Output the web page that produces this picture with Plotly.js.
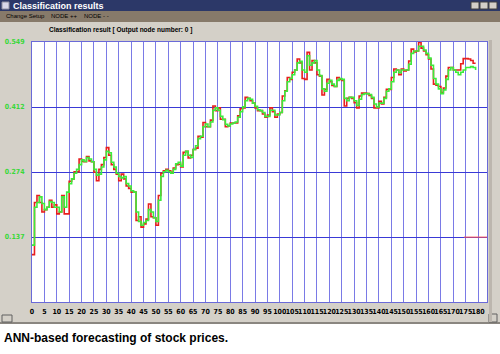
<!DOCTYPE html>
<html>
<head>
<meta charset="utf-8">
<script src="https://cdn.plot.ly/plotly-3.0.1.min.js"></script>
<style>html,body{margin:0;padding:0;background:#ffffff;}#chart{width:500px;height:354px;}</style>
</head>
<body>
<div id="chart"></div>
<script>
// ---- data ----
const actual = [0.10,0.21,0.225,0.21,0.19,0.195,0.20,0.215,0.20,0.205,
0.186,0.19,0.225,0.186,0.186,0.255,0.26,0.275,0.275,0.302,
0.297,0.296,0.307,0.298,0.296,0.274,0.256,0.28,0.29,0.305,
0.326,0.31,0.29,0.28,0.27,0.256,0.27,0.26,0.245,0.24,
0.232,0.232,0.172,0.18,0.158,0.165,0.175,0.207,0.18,0.178,
0.162,0.225,0.272,0.277,0.28,0.277,0.274,0.283,0.29,0.291,
0.285,0.316,0.318,0.304,0.31,0.322,0.325,0.35,0.348,0.379,
0.37,0.37,0.384,0.414,0.404,0.41,0.386,0.386,0.37,0.372,
0.378,0.378,0.378,0.393,0.408,0.41,0.432,0.43,0.425,0.42,
0.41,0.404,0.404,0.397,0.39,0.395,0.41,0.402,0.39,0.397,
0.40,0.435,0.446,0.474,0.47,0.485,0.49,0.513,0.505,0.472,
0.47,0.527,0.49,0.51,0.505,0.48,0.477,0.437,0.449,0.47,
0.465,0.457,0.455,0.474,0.47,0.468,0.414,0.43,0.432,0.43,
0.421,0.41,0.435,0.441,0.441,0.44,0.436,0.43,0.41,0.41,
0.424,0.418,0.432,0.449,0.449,0.474,0.492,0.49,0.48,0.492,
0.488,0.49,0.509,0.534,0.528,0.53,0.548,0.536,0.53,0.522,
0.513,0.492,0.46,0.458,0.455,0.442,0.452,0.477,0.495,0.495,
0.49,0.49,0.49,0.503,0.514,0.514,0.513,0.51,0.504,0.504];

const predicted = [0.12,0.20,0.21,0.222,0.208,0.195,0.20,0.212,0.21,0.20,
0.20,0.19,0.222,0.20,0.232,0.25,0.26,0.272,0.28,0.29,
0.30,0.297,0.305,0.302,0.296,0.28,0.268,0.27,0.285,0.30,
0.318,0.315,0.295,0.285,0.272,0.265,0.262,0.265,0.25,0.245,
0.235,0.232,0.19,0.17,0.162,0.168,0.172,0.195,0.19,0.178,
0.17,0.215,0.265,0.275,0.278,0.275,0.272,0.28,0.292,0.295,
0.287,0.31,0.318,0.31,0.305,0.322,0.33,0.345,0.35,0.37,
0.376,0.37,0.38,0.405,0.41,0.405,0.392,0.385,0.375,0.372,
0.376,0.378,0.38,0.39,0.402,0.412,0.425,0.43,0.428,0.42,
0.413,0.406,0.404,0.40,0.392,0.392,0.405,0.405,0.395,0.395,
0.40,0.425,0.445,0.465,0.472,0.48,0.49,0.505,0.508,0.49,
0.485,0.52,0.50,0.505,0.51,0.49,0.478,0.45,0.445,0.462,
0.468,0.46,0.455,0.468,0.472,0.47,0.43,0.425,0.432,0.432,
0.425,0.415,0.428,0.438,0.44,0.44,0.438,0.432,0.418,0.412,
0.42,0.42,0.43,0.445,0.45,0.465,0.485,0.49,0.484,0.49,
0.49,0.49,0.502,0.525,0.53,0.53,0.54,0.54,0.532,0.525,
0.515,0.50,0.472,0.46,0.45,0.44,0.448,0.47,0.49,0.495,
0.49,0.485,0.48,0.485,0.49,0.495,0.495,0.497,0.495,0.49];

const markerX = [174.3, 183.6];
const markerY = [0.137, 0.137];

const xTickVals = [];
for (let v = 0; v <= 180; v += 5) xTickVals.push(v);
const yTickVals = [0.13725, 0.2745, 0.41175, 0.549];
const yTickText = ['0.137', '0.274', '0.412', '0.549'];

const chartTitle = 'Classification result [ Output node number: 0 ]';
const windowTitle = 'Classification results';
const menuItems = ['Change Setup', 'NODE ++', 'NODE - -'];
const caption = 'ANN-based forecasting of stock prices.';

// ---- layout helpers (pixels -> paper) ----
const L = 32, T = 42, W = 455, H = 260;
const X = px => (px - L) / W;
const Y = py => (T + H - py) / H;

const idx = actual.map((_, i) => i);

const traces = [
  {x: idx, y: actual, type: 'scatter', mode: 'lines', line: {shape: 'hv', color: '#e81e1e', width: 1.6}, hoverinfo: 'skip'},
  {x: idx, y: predicted, type: 'scatter', mode: 'lines', line: {shape: 'hv', color: '#3cec3c', width: 1.6}, hoverinfo: 'skip'},
  {x: markerX, y: markerY, type: 'scatter', mode: 'lines', line: {color: '#ff5050', width: 1}, hoverinfo: 'skip'}
];

const rect = (x0, y0, x1, y1, fill, lineColor, layer) => ({
  type: 'rect', xref: 'paper', yref: 'paper', x0: X(x0), x1: X(x1), y0: Y(y1), y1: Y(y0),
  fillcolor: fill, line: {width: lineColor ? 1 : 0, color: lineColor || fill}, layer: layer || 'below'
});

const shapes = [
  rect(0, 0, 500, 11, '#2c3868'),
  rect(0, 11, 500, 22, '#877a6a'),
  rect(0, 322, 500, 324, '#8a8680'),
  rect(0, 324, 500, 354, '#ffffff'),
  rect(2, 2, 9, 9, '#d8d8e8', '#9090a0'),
  rect(471, 2, 479, 9, '#d4d0c8', '#404040'),
  rect(480, 2, 488, 9, '#d4d0c8', '#404040'),
  rect(489, 2, 497, 9, '#d4d0c8', '#404040'),
  rect(2, 315, 12, 322, '#d4d0c8', '#606060'),
  rect(489, 314, 497, 322, '#d4d0c8', '#606060'),
  rect(489, 40, 492, 322, '#bcb6ae')
];

const ann = (px, py, text, size, color, anchor, bold, family) => ({
  xref: 'paper', yref: 'paper', x: X(px), y: Y(py), text: bold ? '<b>' + text + '</b>' : text,
  showarrow: false, xanchor: anchor || 'left', yanchor: 'middle',
  font: {size: size, color: color, family: family || 'Liberation Sans, Arial, sans-serif'}
});

const annotations = [
  ann(11, 5.5, windowTitle, 9, '#ffffff', 'left', true),
  ann(4, 16.5, menuItems[0], 6, '#000000'),
  ann(49, 16.5, menuItems[1], 6, '#000000'),
  ann(82, 16.5, menuItems[2], 6, '#000000'),
  ann(47, 30, chartTitle, 6.5, '#000000', 'left', true),
  ann(2, 338, caption, 12, '#000000', 'left', true)
];

const layout = {
  width: 500, height: 354,
  margin: {l: L, r: 500 - L - W, t: T, b: 354 - T - H, pad: 0},
  paper_bgcolor: '#d4d0c8',
  plot_bgcolor: '#ffffff',
  showlegend: false,
  xaxis: {
    range: [0, 183.6], tickvals: xTickVals, ticktext: xTickVals.map(String),
    showgrid: true, gridcolor: '#7a7ae6', gridwidth: 1, zeroline: false,
    showline: true, linecolor: '#6a6ad8', linewidth: 1, mirror: true,
    ticks: '', ticklabelstandoff: 3, tickangle: 0,
    tickfont: {size: 7, color: '#000000', family: 'DejaVu Sans Condensed, Liberation Sans, sans-serif', weight: 'bold'},
    fixedrange: true
  },
  yaxis: {
    range: [0, 0.549], tickvals: yTickVals, ticktext: yTickText,
    showgrid: true, gridcolor: '#3a3ad6', gridwidth: 1, zeroline: false,
    showline: true, linecolor: '#6a6ad8', linewidth: 1, mirror: true,
    ticks: '', ticklabelstandoff: 5,
    tickfont: {size: 7, color: '#3ad83a', family: 'DejaVu Sans Condensed, Liberation Sans, sans-serif', weight: 'bold'},
    fixedrange: true
  },
  shapes: shapes,
  annotations: annotations
};

Plotly.newPlot('chart', traces, layout, {staticPlot: true, displayModeBar: false});
</script>
</body>
</html>
